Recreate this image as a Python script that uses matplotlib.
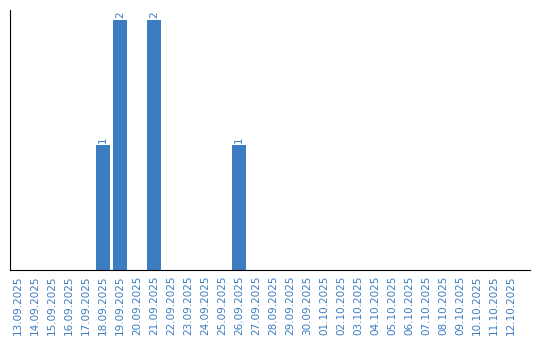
import matplotlib
matplotlib.use('Agg')
import matplotlib.pyplot as plt
import numpy as np

# fechas y conteos
fechas = ['13.09.2025', '14.09.2025', '15.09.2025', '16.09.2025', '17.09.2025',
          '18.09.2025', '19.09.2025', '20.09.2025', '21.09.2025', '22.09.2025',
          '23.09.2025', '24.09.2025', '25.09.2025', '26.09.2025', '27.09.2025',
          '28.09.2025', '29.09.2025', '30.09.2025', '01.10.2025', '02.10.2025',
          '03.10.2025', '04.10.2025', '05.10.2025', '06.10.2025', '07.10.2025',
          '08.10.2025', '09.10.2025', '10.10.2025', '11.10.2025', '12.10.2025']
conteos = [0, 0, 0, 0, 0, 1, 2, 0, 2, 0, 0, 0, 0, 1, 0,
           0, 0, 0, 0, 0, 0, 0, 0, 0, 0, 0, 0, 0, 0, 0]

AZUL = '#3b7dc0'

fig = plt.figure(figsize=(5.4, 3.4), dpi=100)
ax = fig.add_axes([10/540, 70/340, 520/540, 260/340])

x = np.arange(len(fechas))
ax.bar(x, conteos, width=0.82, color=AZUL)

for xi, c in zip(x, conteos):
    if c > 0:
        ax.text(xi, c + 0.02, str(c), rotation=90, ha='center', va='bottom',
                color=AZUL, fontsize=7.5)

ax.set_xlim(-0.47, 30.1)
ax.set_ylim(0, 2.08)
ax.set_xticks(x)
ax.set_xticklabels(fechas, rotation=90, color=AZUL, fontsize=7.5)
ax.tick_params(axis='x', length=0, pad=4)
ax.set_yticks([])
ax.spines['top'].set_visible(False)
ax.spines['right'].set_visible(False)

fig.savefig('out.png', dpi=100)
